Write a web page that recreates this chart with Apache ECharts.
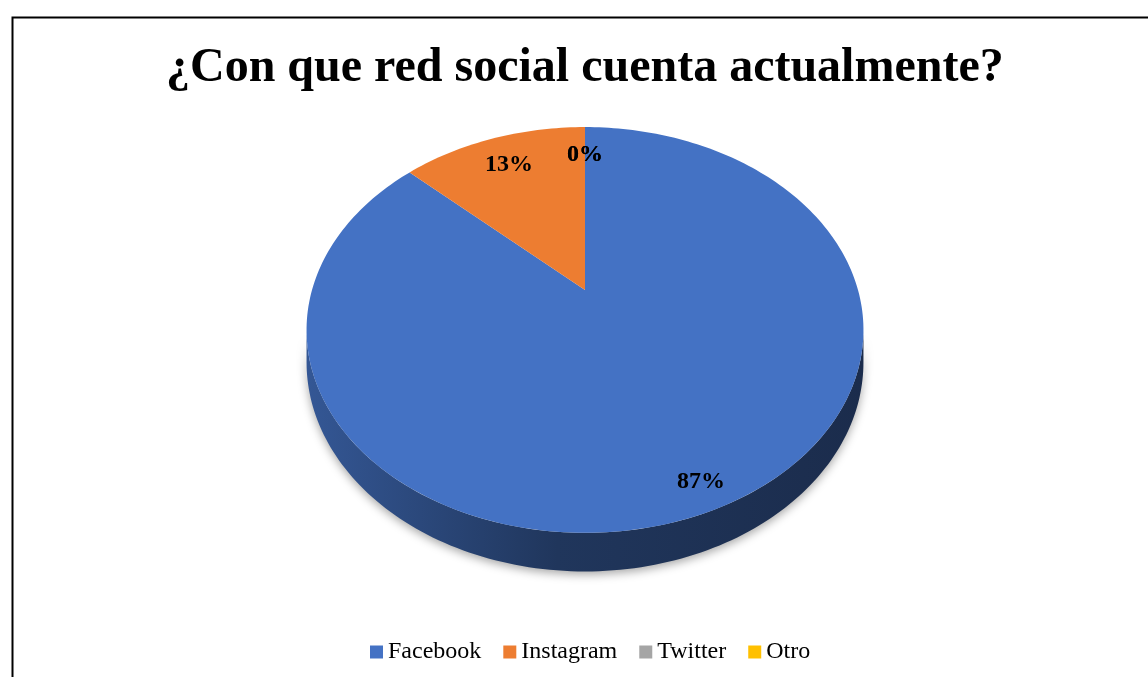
<!DOCTYPE html>
<html>
<head>
<meta charset="utf-8">
<script src="https://cdn.jsdelivr.net/npm/echarts@6/dist/echarts.min.js"></script>
<style>
  html, body { margin: 0; padding: 0; background: #fff; }
  #chart { width: 1148px; height: 677px; }
</style>
</head>
<body>
<div id="chart"></div>
<script>
const categories = ['Facebook', 'Instagram', 'Twitter', 'Otro'];
const values = [87, 13, 0, 0];
const colors = ['#4472C4', '#ED7D31', '#A5A5A5', '#FFC000'];

const total = values.reduce((a, b) => a + b, 0);
const starts = [];
let acc = 0;
values.forEach(v => { starts.push(acc / total); acc += v; });

// tilted disc, slight perspective (k) so the back looks smaller
const disc = { cx: 585, cy: 290, a: 273, b: 195, k: 0.197, depth: 31 };

// t = fraction of a full turn, clockwise from 12 o'clock
function project(t, r, drop) {
  const ang = t * 2 * Math.PI;
  const X = Math.sin(ang) * r, Z = Math.cos(ang) * r;
  const s = 1 / (1 + disc.k * Z);
  return [disc.cx + disc.a * X * s, disc.cy - disc.b * Z * s + (drop || 0) * s];
}

function shade(hex, f) {
  const n = parseInt(hex.slice(1), 16);
  const r = Math.round(((n >> 16) & 255) * f);
  const g = Math.round(((n >> 8) & 255) * f);
  const b = Math.round((n & 255) * f);
  return 'rgb(' + r + ',' + g + ',' + b + ')';
}

// visible front wall lies between the two silhouette points (Z = -k)
const wallFrom = Math.acos(-disc.k) / (2 * Math.PI);
const wallTo = 1 - wallFrom;

function renderSlice(i) {
  return function (params, api) {
    const t0 = starts[i], t1 = t0 + values[i] / total;
    const children = [];
    if (t1 > t0) {
      const steps = Math.max(2, Math.ceil((t1 - t0) * 300));
      const top = [[disc.cx, disc.cy]];
      for (let s = 0; s <= steps; s++) top.push(project(t0 + (t1 - t0) * s / steps, 1));
      children.push({
        type: 'polygon', z2: 10,
        shape: { points: top },
        style: { fill: colors[i] }
      });

      const w0 = Math.max(t0, wallFrom), w1 = Math.min(t1, wallTo);
      if (w1 > w0) {
        const n = Math.max(2, Math.ceil((w1 - w0) * 300));
        const upper = [], lower = [];
        for (let s = 0; s <= n; s++) {
          const t = w0 + (w1 - w0) * s / n;
          upper.push(project(t, 1));
          lower.push(project(t, 1, disc.depth));
        }
        const x0 = disc.cx - disc.a * 1.02, x1 = disc.cx + disc.a * 1.02;
        children.push({
          type: 'polygon', z2: 1,
          shape: { points: upper.concat(lower.reverse()) },
          style: {
            fill: {
              type: 'linear', global: true, x: x0, y: 0, x2: x1, y2: 0,
              colorStops: [
                { offset: 0, color: shade(colors[i], 0.76) },
                { offset: 0.45, color: shade(colors[i], 0.47) },
                { offset: 1, color: shade(colors[i], 0.39) }
              ]
            },
            shadowBlur: 10,
            shadowColor: 'rgba(0,0,0,0.35)',
            shadowOffsetY: 3
          }
        });
      }
    }
    const tm = (t0 + t1) / 2;
    const r = 0.85 - 0.05 * Math.cos(tm * 2 * Math.PI);
    const p = project(tm, r);
    children.push({
      type: 'text', z2: 20,
      x: p[0], y: p[1],
      style: {
        text: Math.round(values[i] / total * 100) + '%',
        font: 'bold 24px "Liberation Serif", "Times New Roman", serif',
        fill: '#000',
        align: 'center',
        verticalAlign: 'middle'
      }
    });
    return { type: 'group', children: children };
  };
}

const chart = echarts.init(document.getElementById('chart'));
chart.setOption({
  animation: false,
  color: colors,
  title: {
    text: '¿Con que red social cuenta actualmente?',
    left: 161,
    top: 40,
    textStyle: {
      fontFamily: 'Liberation Serif',
      fontWeight: 'bold',
      fontSize: 48,
      color: '#000'
    }
  },
  legend: {
    data: categories,
    top: 635,
    left: 365,
    icon: 'rect',
    itemWidth: 13,
    itemHeight: 13,
    itemGap: 22,
    textStyle: { fontFamily: 'Liberation Serif', fontSize: 24, color: '#000' }
  },
  graphic: [{
    type: 'rect', left: 10, top: 15,
    shape: { width: 1200, height: 700 },
    style: { fill: 'none', stroke: '#000', lineWidth: 2 }
  }],
  series: categories.map((name, i) => ({
    type: 'custom',
    name: name,
    coordinateSystem: 'none',
    itemStyle: { color: colors[i] },
    data: [values[i]],
    renderItem: renderSlice(i)
  }))
});
</script>
</body>
</html>
